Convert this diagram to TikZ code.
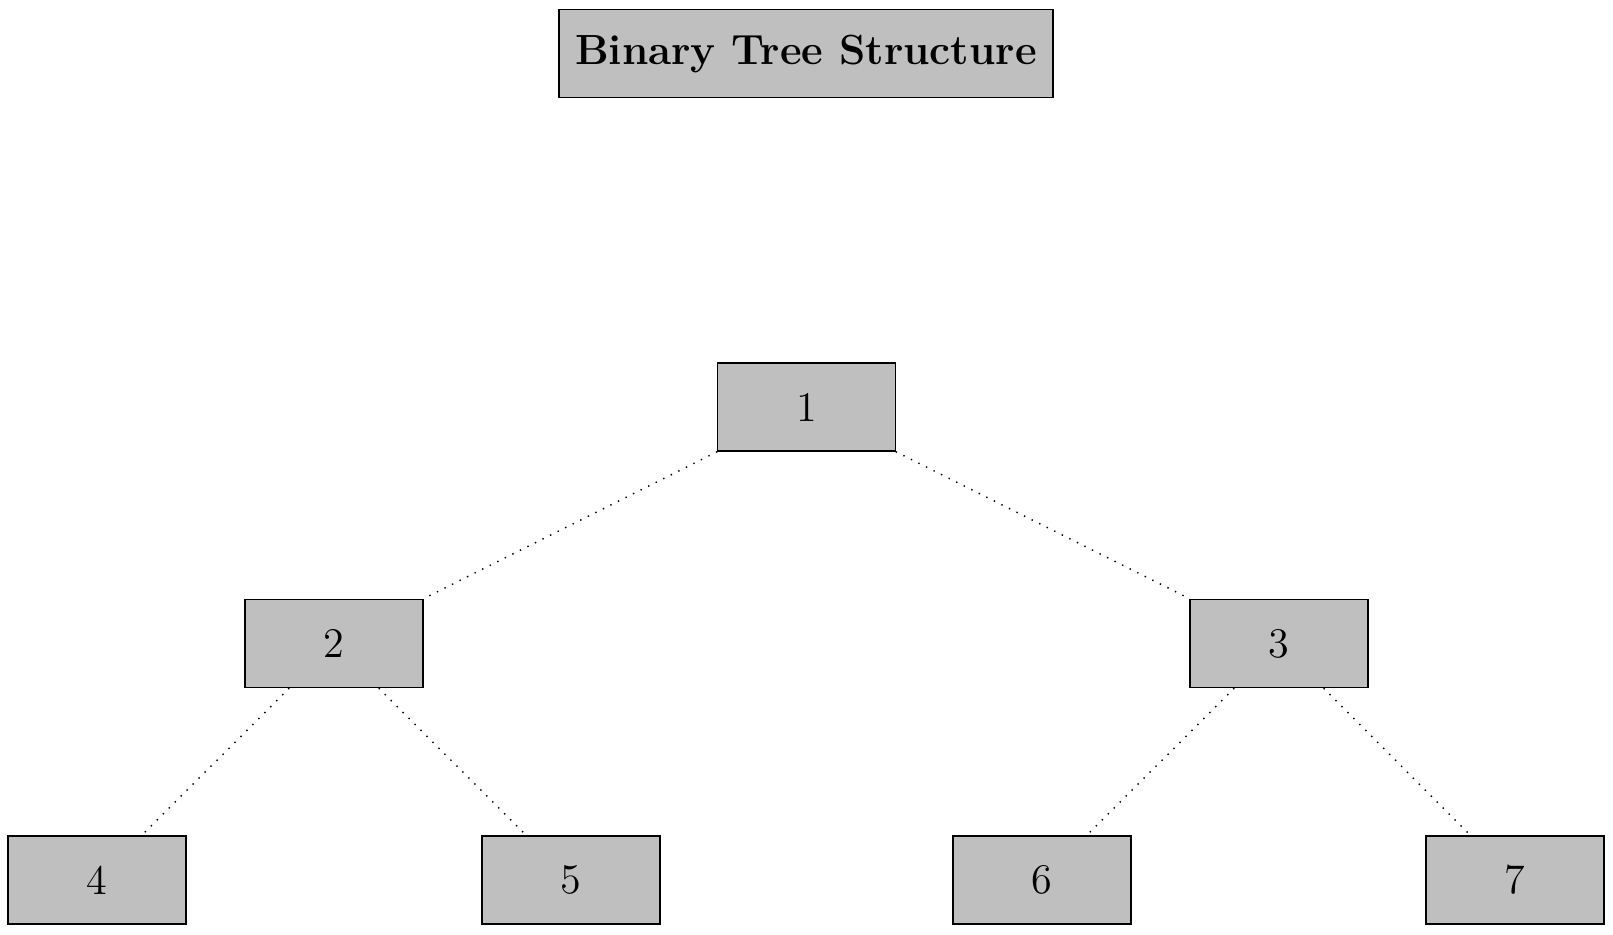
\documentclass[tikz,border=0pt]{standalone}
\begin{document}
\begin{tikzpicture}[
  treenode/.style={draw, fill=lightgray, minimum width=1.78cm, minimum height=0.88cm, inner sep=0pt, font=\large},
  titlebox/.style={draw, fill=lightgray, minimum width=4.94cm, minimum height=0.88cm, inner sep=0pt, font=\large\bfseries},
  link/.style={dotted}
]
\useasboundingbox (0,0) rectangle (16.13,9.34);
\node[titlebox] (title) at (8.06,8.805) {Binary Tree Structure};
\node[treenode] (n1) at (8.065,5.27) {1};
\node[treenode] (n2) at (3.34,2.905) {2};
\node[treenode] (n3) at (12.79,2.905) {3};
\node[treenode] (n4) at (0.97,0.54) {4};
\node[treenode] (n5) at (5.71,0.54) {5};
\node[treenode] (n6) at (10.42,0.54) {6};
\node[treenode] (n7) at (15.15,0.54) {7};
\draw[link] (n1) -- (n2);
\draw[link] (n1) -- (n3);
\draw[link] (n2) -- (n4);
\draw[link] (n2) -- (n5);
\draw[link] (n3) -- (n6);
\draw[link] (n3) -- (n7);
\end{tikzpicture}
\end{document}
